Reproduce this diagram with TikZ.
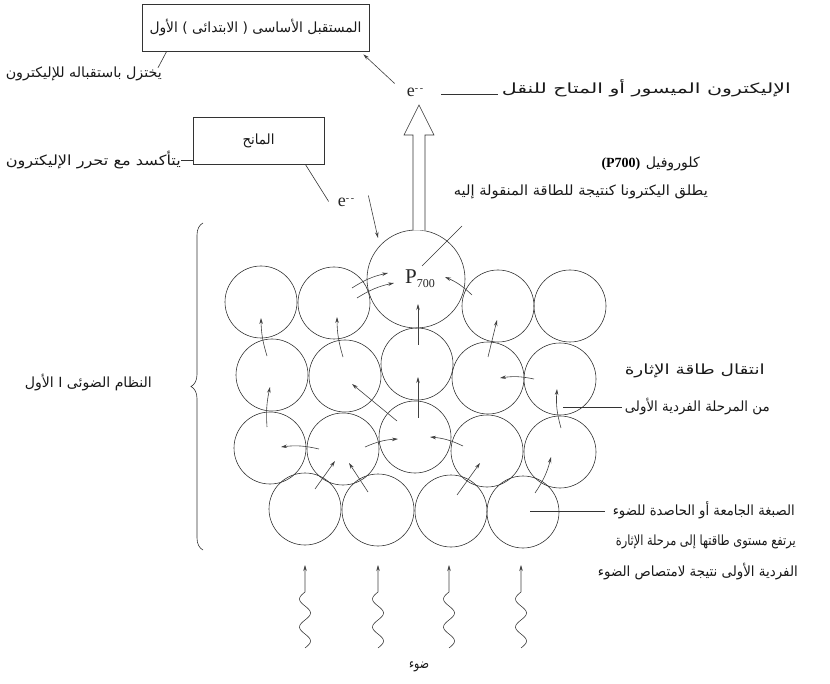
\documentclass[tikz,border=0pt]{standalone}
\usepackage{fontspec}
\usepackage{graphicx}
\setmainfont{Liberation Serif}
\newfontfamily\arabicfont[Script=Arabic]{DejaVu Sans}
\TeXXeTstate=1
\newcommand\arw[2]{\resizebox{#1pt}{\height}{\arabicfont #2}}
\usetikzlibrary{arrows.meta,decorations.pathreplacing,calc}
\begin{document}
\begin{tikzpicture}[x=1pt,y=-1pt,
  ink/.style={draw=black!80, line width=0.6pt},
  ball/.style={circle, draw=black!80, line width=0.6pt, minimum size=72pt, inner sep=0pt},
  flow/.style={draw=black!75, line width=0.6pt, -{Stealth[length=6pt,width=3.5pt]}},
  ar/.style={font=\arabicfont\fontsize{14}{16}\selectfont, inner sep=0pt, text=black!90},
  lbox/.style={draw=black!80, line width=0.6pt, inner sep=0pt},
  elec/.style={font=\fontsize{18}{20}\selectfont, inner sep=0pt, text=black!85}
]
\useasboundingbox (0,0) rectangle (830,684);

% boxes
\node[lbox, minimum width=227pt, minimum height=47pt] (box1) at (255.5,27.5) {};
\node[ar] at (box1.center) {\arw{212}{\beginR المستقبل الأساسى ( الابتدائى ) الأول\endR}};
\node[lbox, minimum width=131pt, minimum height=47pt] (box2) at (258.5,140.5) {};
\node[ar] at (box2.center) {\arw{32}{\beginR المانح\endR}};

% side labels of boxes
\node[ar, anchor=east] (lab1) at (162,74) {\arw{156}{\beginR يختزل باستقباله للإليكترون\endR}};
\draw[ink] ([xshift=25pt]box1.south west) -- ([xshift=-4pt,yshift=-1pt]lab1.north east);
\node[ar, anchor=east] (lab2) at (181,160) {\arw{175}{\beginR يتأكسد مع تحرر الإليكترون\endR}};
\draw[ink] (lab2.east) -- (box2.west |- lab2.east);

% electrons
\node[elec] (e1) at (415,92) {e\raisebox{0.6ex}{\fontsize{10}{10}\selectfont {-}\,{-}}};
\node[elec] (e2) at (346,202) {e\raisebox{0.6ex}{\fontsize{10}{10}\selectfont {-}\,{-}}};
\node[ar, anchor=east] (lab3) at (791,88) {\arw{289}{\beginR الإليكترون الميسور أو المتاح للنقل\endR}};
\coordinate (l3a) at (441,94);
\draw[ink] (l3a) -- ([xshift=-4pt]lab3.west |- l3a);
\draw[flow] (e1.north west) ++(-12,-4) coordinate (e1t) -- ([xshift=-6pt,yshift=-3pt]box1.south east);
\draw[ink] ([xshift=-19pt]box2.south east) -- ([xshift=-9pt,yshift=-4pt]e2.north west);

% P700 circle
\node[circle, draw=black!80, line width=0.6pt, minimum size=98pt, inner sep=0pt] (p700) at (416,279) {};
\node[font=\fontsize{21}{22}\selectfont, inner sep=0pt, text=black!85] at (420,279) {P\raisebox{-0.4ex}{\fontsize{12}{12}\selectfont 700}};
\draw[flow] ([xshift=14pt,yshift=11pt]e2.south east) -- (378,238);

% hollow arrow
\draw[ink, fill=white] (413,230.5) -- (413,135) -- (404,135) -- (419,105) -- (434,135) -- (425,135) -- (425,230.5);

% chlorophyll label
\node[ar, anchor=east] (chl) at (700,164) {\arw{54}{\beginR كلوروفيل\endR}};
\node[font=\bfseries\fontsize{14}{16}\selectfont, inner sep=0pt, anchor=east] (chlp) at ([xshift=-5pt]chl.west) {(P700)};
\node[ar, anchor=east] (chl2) at (708,192) {\arw{254}{\beginR يطلق اليكترونا كنتيجة للطاقة المنقولة إليه\endR}};
\draw[ink] (462,226) -- (422,266);

% antenna circles
\foreach \n/\cx/\cy in {
  a1/261/302, a2/334/303, a4/498/306, a5/570/306,
  b1/272/375, b2/345/376, b3/417/364, b4/488/378, b5/560/379,
  c1/270/448, c2/343/449, c3/415/437, c4/487/451, c5/560/452,
  d1/305/509, d2/378/510, d3/451/511, d4/523/512}
  \node[ball] (\n) at (\cx,\cy) {};

% energy transfer arrows
\draw[flow] (267,356) to[bend left=8] (261,318);
\draw[flow] (343,357) to[bend left=8] (337,317);
\draw[flow] (418,345) -- (418,304);
\draw[flow] (418,418) -- (418,377);
\draw[flow] (488,357) -- (497,320);
\draw[flow] (534,379) to[bend right=10] (500,378);
\draw[flow] (561,428) to[bend left=10] (557,389);
\draw[flow] (267,427) to[bend left=8] (270,387);
\draw[flow] (397,421) -- (352,384);
\draw[flow] (319,449) to[bend right=10] (281,447);
\draw[flow] (365,447) to[bend left=10] (398,439);
\draw[flow] (463,446) to[bend right=10] (430,437);
\draw[flow] (315,489) -- (335,461);
\draw[flow] (368,492) -- (349,463);
\draw[flow] (457,495) -- (480,463);
\draw[flow] (535,493) to[bend right=10] (551,457);
\draw[flow] (352,288) to[bend left=10] (388,273);
\draw[flow] (357,298) to[bend left=10] (394,283);
\draw[flow] (472,295) to[bend right=10] (445,277);

% right labels
\node[ar, anchor=east] (t1) at (765,371) {\arw{140}{\beginR انتقال طاقة الإثارة\endR}};
\node[ar, anchor=east] (t2) at (770,407) {\arw{145}{\beginR من المرحلة الفردية الأولى\endR}};
\coordinate (t2a) at (563,407);
\draw[ink] (t2a) -- ([xshift=-3pt]t2.west |- t2a);
\node[ar, anchor=east] (u1) at (795,510) {\arw{182}{\beginR الصبغة الجامعة أو الحاصدة للضوء\endR}};
\node[ar, anchor=east] (u2) at (796,542) {\arw{180}{\beginR يرتفع مستوى طاقتها إلى مرحلة الإثارة\endR}};
\node[ar, anchor=east] (u3) at (798,572) {\arw{200}{\beginR الفردية الأولى نتيجة لامتصاص الضوء\endR}};
\coordinate (u1a) at (530,511);
\draw[ink] (u1a) -- ([xshift=-8pt]u1.west |- u1a);

% brace and photosystem label
\draw[ink, decorate, decoration={brace, amplitude=12pt}] (203,550) -- (203,223);
\node[ar, anchor=east] (ps) at (152,383) {\arw{127}{\beginR النظام الضوئى \beginL I\endL{} الأول\endR}};

% light
\foreach \wx in {305,378,449,521}
  \draw[flow] plot[variable=\t, domain=0:56, samples=50, smooth] ({\wx+5.5*sin(\t*12.86)}, {648-\t}) -- (\wx,565);
\node[ar] (light) at (419,667) {\arw{20}{\beginR ضوء\endR}};
\end{tikzpicture}
\end{document}
